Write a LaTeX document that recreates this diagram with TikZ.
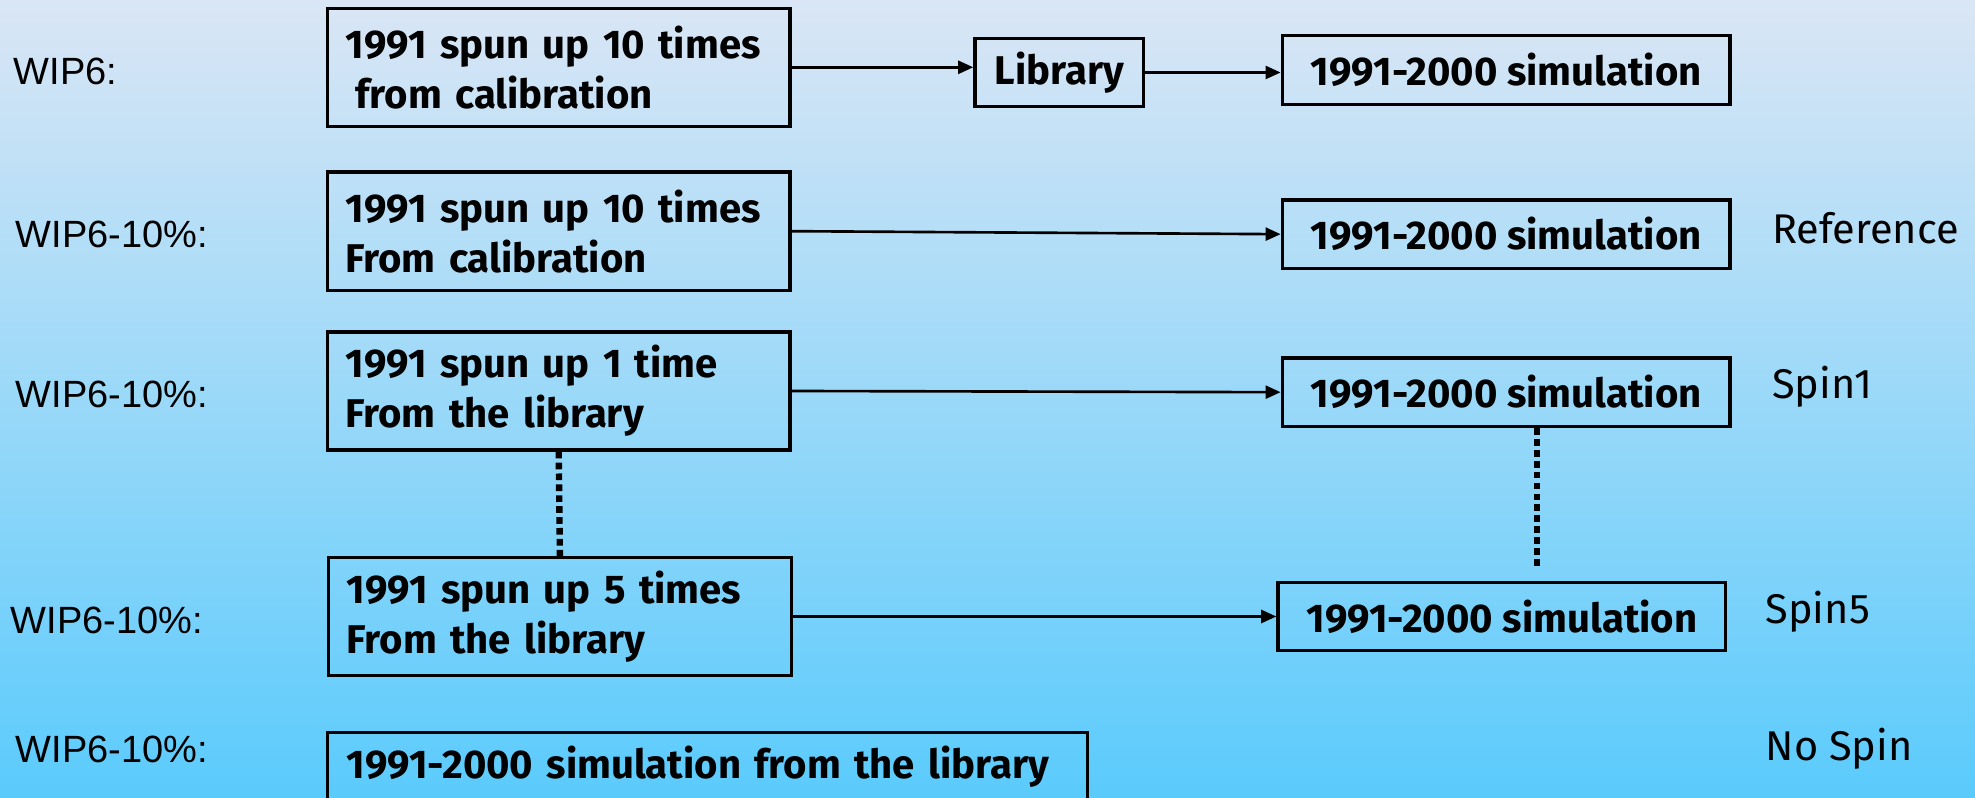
\documentclass[tikz,border=0pt]{standalone}
\usepackage{fontspec}
\setmainfont{Fira Sans}
\newfontfamily\arialf{Liberation Sans}
\usetikzlibrary{arrows.meta,calc}
\definecolor{bgtop}{RGB}{218,230,245}
\definecolor{bgbot}{RGB}{90,203,252}
\begin{document}
\begin{tikzpicture}[x=0.01cm,y=-0.01cm,
  box/.style={draw=black,line width=0.95pt,inner sep=0pt,font=\bfseries\fontsize{11.4}{14.2}\selectfont},
  abox/.style={box,align=left,text width=4.263cm,inner xsep=0.18cm,minimum width=4.623cm,minimum height=1.18cm},
  sbox/.style={box,minimum width=4.475cm,minimum height=0.686cm},
  lab/.style={font=\arialf\fontsize{10.8}{13}\selectfont,anchor=west,inner sep=0pt},
  rlab/.style={font=\fontsize{11.8}{14}\selectfont,anchor=west,inner sep=0pt},
  conn/.style={line width=0.75pt,-{Triangle[length=4.3pt,width=3.7pt]}},
  dotline/.style={line width=1.8pt,dash pattern=on 1.9pt off 1.2pt}]
\useasboundingbox (0,0) rectangle (1975,798);
\clip (0,0) rectangle (1975,798);
\fill[top color=bgtop,bottom color=bgbot] (0,0) rectangle (1975,798);

% left labels
\node[lab] (L1) at (13,71.7) {WIP6:};
\node[lab] (L2) at (15,234) {WIP6-10\%:};
\node[lab] (L3) at (15,394) {WIP6-10\%:};
\node[lab] (L4) at (10,620) {WIP6-10\%:};
\node[lab] (L5) at (15,749.5) {WIP6-10\%:};

% right labels
\node[rlab] (R2) at (1771.5,228) {Reference};
\node[rlab] (R3) at (1771.5,386.7) {Spin1};
\node[rlab] (R4) at (1765,611.7) {Spin5};
\node[rlab] (R5) at (1765,748.3) {No Spin};

% boxes
\node[abox] (A1) at (558.7,67.3) {1991 spun up 10 times\\\hspace*{0.25em}from calibration};
\node[box,minimum width=1.684cm,minimum height=0.684cm] (Lib) at (1059.2,72.5) {Library};
\node[sbox] (S1) at (1506.2,70) {1991-2000 simulation};

\node[abox] (A2) at (558.7,231.2) {1991 spun up 10 times\\From calibration};
\node[sbox] (S2) at (1506.2,234.2) {1991-2000 simulation};

\node[abox] (A3) at (558.7,391) {1991 spun up 1 time\\From the library};
\node[sbox] (S3) at (1506.2,392.2) {1991-2000 simulation};

\node[abox] (A4) at (559.9,616.5) {1991 spun up 5 times\\From the library};
\node[sbox] (S4) at (1501.9,616.5) {1991-2000 simulation};

\node[box,align=left,text width=7.213cm,inner xsep=0.19cm,minimum width=7.593cm,minimum height=0.69cm] (A5) at (707.4,766.8) {1991-2000 simulation from the library};

% connectors
\draw[conn] (A1.east) -- (A1.east -| Lib.west);
\draw[conn] (Lib.east) -- (Lib.east -| S1.west);
\draw[conn] (A2.east) -- (S2.west);
\draw[conn] (A3.east) -- (S3.west);
\draw[conn] (A4.east) -- (S4.west);

\coordinate (d2) at (1536.7,500);
\coordinate (d2e) at (1536.7,567.3);
\draw[dotline] (A3.south) -- (A4.north);
\draw[dotline] (d2 |- S3.south) -- (d2e);
\end{tikzpicture}
\end{document}
